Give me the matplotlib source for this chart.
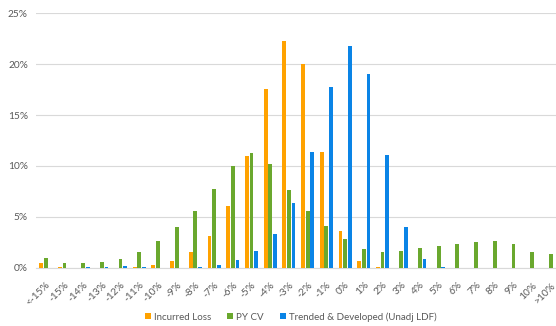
import matplotlib
matplotlib.use("Agg")
import matplotlib.pyplot as plt
from matplotlib.ticker import FuncFormatter
from matplotlib.patches import Patch
import numpy as np

categories = ["<-15%", "-15%", "-14%", "-13%", "-12%", "-11%", "-10%", "-9%", "-8%",
              "-7%", "-6%", "-5%", "-4%", "-3%", "-2%", "-1%", "0%", "1%", "2%",
              "3%", "4%", "5%", "6%", "7%", "8%", "9%", "10%", ">10%"]

incurred_loss = [0.46, 0.10, 0.00, 0.00, 0.00, 0.10, 0.26, 0.72, 1.57, 3.17, 6.10, 11.00,
                 17.58, 22.30, 20.00, 11.35, 3.66, 0.65, 0.05, 0.00, 0.00, 0.00, 0.00,
                 0.00, 0.00, 0.00, 0.00, 0.00]
py_cv = [1.00, 0.45, 0.50, 0.60, 0.90, 1.57, 2.65, 4.00, 5.60, 7.70, 10.00, 11.27,
         10.20, 7.65, 5.59, 4.15, 2.88, 1.90, 1.54, 1.67, 1.96, 2.19, 2.35, 2.58,
         2.65, 2.32, 1.60, 1.34]
trended_developed = [0.00, 0.00, 0.10, 0.13, 0.20, 0.10, 0.00, 0.00, 0.10, 0.30, 0.82,
                     1.67, 3.33, 6.37, 11.37, 17.70, 21.80, 19.05, 11.05, 4.02, 0.92,
                     0.10, 0.00, 0.00, 0.00, 0.00, 0.00, 0.00]

series_names = ["Incurred Loss", "PY CV", "Trended & Developed (Unadj LDF)"]
colors = ["#FFA200", "#6AA82E", "#0A84E6"]

plt.rcParams["font.family"] = ["Lato", "DejaVu Sans"]

fig = plt.figure(figsize=(5.56, 3.26), dpi=100)
ax = fig.add_axes([0.0653, 0.178, 0.9424, 0.782])

x = np.arange(len(categories))
width = 0.2
offset = 0.245
for i, (vals, col) in enumerate(zip([incurred_loss, py_cv, trended_developed], colors)):
    ax.bar(x + (i - 1) * offset, np.array(vals) / 100.0, width=width, color=col,
           zorder=3, linewidth=0)

ax.set_xlim(-0.5, len(categories) - 0.5)
ax.set_ylim(0, 0.25)
ax.set_yticks(np.arange(0, 0.2501, 0.05))
ax.yaxis.set_major_formatter(FuncFormatter(lambda v, p: f"{v * 100:.0f}%"))
ax.grid(axis="y", color="#D9D9D9", linewidth=0.8, zorder=0)

for s in ["top", "right", "left"]:
    ax.spines[s].set_visible(False)
ax.spines["bottom"].set_color("#D9D9D9")
ax.spines["bottom"].set_linewidth(0.8)

ax.set_xticks(x)
ax.set_xticklabels(categories, rotation=45, ha="right", rotation_mode="anchor",
                   fontsize=7.3, color="#595959")
ax.tick_params(axis="x", length=0, pad=9)
ax.tick_params(axis="y", length=0, pad=6, labelsize=7.3, labelcolor="#595959")

handles = [Patch(facecolor=c, edgecolor="none") for c in colors]
fig.legend(handles, series_names, loc="center", bbox_to_anchor=(0.523, 0.028),
           ncol=3, frameon=False, fontsize=7, labelcolor="#595959",
           handlelength=0.6, handleheight=0.6, handletextpad=0.3, columnspacing=1.7)

fig.savefig("out.png", dpi=100)
